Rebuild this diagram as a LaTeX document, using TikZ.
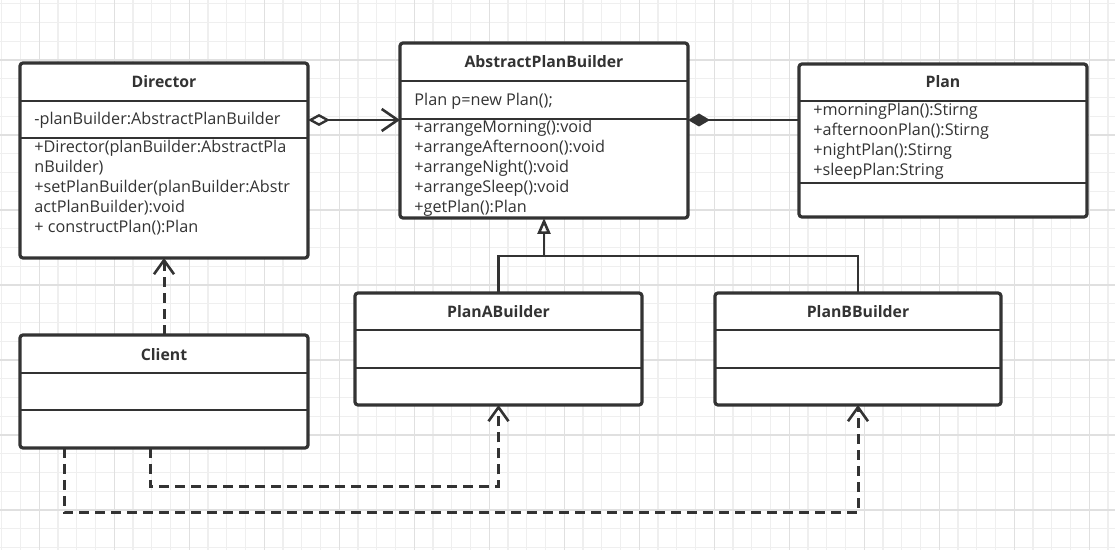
\documentclass[tikz,border=0pt]{standalone}
\usepackage{fontspec}
\setmainfont{Open Sans}
\usetikzlibrary{arrows.meta, calc}

\definecolor{umlgray}{HTML}{333333}
\definecolor{gridminor}{HTML}{EFEFEF}
\definecolor{gridmajor}{HTML}{E0E0E0}

\begin{document}
\begin{tikzpicture}[x=0.5pt, y=-0.5pt,
                    color=umlgray,
                    classbox/.style={draw, fill=white, rounded corners=1.5pt, line width=1.6pt,
                                     anchor=north west, inner sep=0, outer sep=0},
                    classname/.style={font=\fontsize{7.9}{9}\selectfont\bfseries},
                    member/.style={anchor=west, align=left, inner sep=0,
                                   font=\fontsize{8.1}{10}\selectfont},
                    dep/.style={line width=1.5pt, dash pattern=on 5pt off 3pt,
                                -{Straight Barb[length=7pt, width=10pt, line width=1.3pt]}},
                    ]
    \useasboundingbox (0,0) rectangle (1115,550);
    
    % background grid
    \foreach \x in {1.8,20.55,...,1115} \draw[gridminor, line width=0.6pt] (\x,0) -- (\x,550);
    \foreach \y in {3.75,22.5,...,550} \draw[gridminor, line width=0.6pt] (0,\y) -- (1115,\y);
    \foreach \x in {39.3,114.3,...,1115} \draw[gridmajor, line width=0.7pt] (\x,0) -- (\x,550);
    \foreach \y in {60,135,...,550} \draw[gridmajor, line width=0.7pt] (0,\y) -- (1115,\y);
    
    % classes
    \node[classbox, minimum width=144pt,   minimum height=97.5pt] (director) at (20,63) {};
    \node[classbox, minimum width=144pt,   minimum height=87.5pt] (abs)      at (400,43) {};
    \node[classbox, minimum width=144pt,   minimum height=76.5pt] (plan)     at (799,64) {};
    \node[classbox, minimum width=144pt,   minimum height=56.5pt] (client)   at (20,335) {};
    \node[classbox, minimum width=143.5pt, minimum height=56pt]   (planA)    at (355,293) {};
    \node[classbox, minimum width=143pt,   minimum height=56pt]   (planB)    at (715,293) {};
    
    \foreach \n/\a/\b in {director/38/75, abs/38/76, plan/37/119,
                          client/38/75, planA/37/75, planB/37/75}{
        \draw[line width=1.3pt] ($(\n.north west)+(0,\a)$) -- ($(\n.north east)+(0,\a)$);
        \draw[line width=1.3pt] ($(\n.north west)+(0,\b)$) -- ($(\n.north east)+(0,\b)$);
    }
    
    \node[classname] (director-name) at ($(director.north)+(0,19)$) {Director};
    \node[classname] (abs-name)      at ($(abs.north)+(0,19)$)      {AbstractPlanBuilder};
    \node[classname] (plan-name)     at ($(plan.north)+(0,18)$)     {Plan};
    \node[classname] (client-name)   at ($(client.north)+(0,20)$)   {Client};
    \node[classname] (planA-name)    at ($(planA.north)+(0,19)$)    {PlanABuilder};
    \node[classname] (planB-name)    at ($(planB.north)+(0,19)$)    {PlanBBuilder};
    
    \node[member] (director-attr) at (34,120) {-planBuilder:AbstractPlanBuilder};
    \node[member] (director-ops)  at (34,188) {+Director(planBuilder:AbstractPla\\
                                               nBuilder)\\
                                               +setPlanBuilder(planBuilder:Abstr\\
                                               actPlanBuilder):void\\
                                               + constructPlan():Plan};
    \node[member] (abs-attr) at (414,101) {Plan p=new Plan();};
    \node[member] (abs-ops)  at (414,168) {+arrangeMorning():void\\
                                           +arrangeAfternoon():void\\
                                           +arrangeNight():void\\
                                           +arrangeSleep():void\\
                                           +getPlan():Plan};
    \node[member] (plan-attr) at (813,141.5) {+morningPlan():Stirng\\
                                              +afternoonPlan():Stirng\\
                                              +nightPlan():Stirng\\
                                              +sleepPlan:String};
    
    % relations
    \draw[line width=1.3pt, {Diamond[open, length=11pt, width=6pt, line width=1.2pt]}-{Straight Barb[length=8pt, width=11pt, line width=1.3pt]}]
        (director.east |- director-attr) -- (abs.west |- director-attr);
    \draw[line width=1.3pt, {Diamond[length=11pt, width=6.5pt]}-]
        (abs.east |- director-attr) -- (plan.west |- director-attr);
    
    \coordinate (branch) at (544,256);
    \draw[line width=1.3pt, -{Triangle[open, length=8pt, width=6.5pt, line width=1.3pt]}]
        (planA.north) |- (branch) -- (abs.south);
    \draw[line width=1.3pt] (planB.north) |- (branch);
    
    \draw[dep] (client.north) -- (director.south);
    \draw[dep] ($(client.south west)+(130,0)$) |- ($(planA.south)+(0,82)$) -- (planA.south);
    \draw[dep] ($(client.south west)+(44,0)$) |- ($(planB.south)+(0,108)$) -- (planB.south);
\end{tikzpicture}
\end{document}
